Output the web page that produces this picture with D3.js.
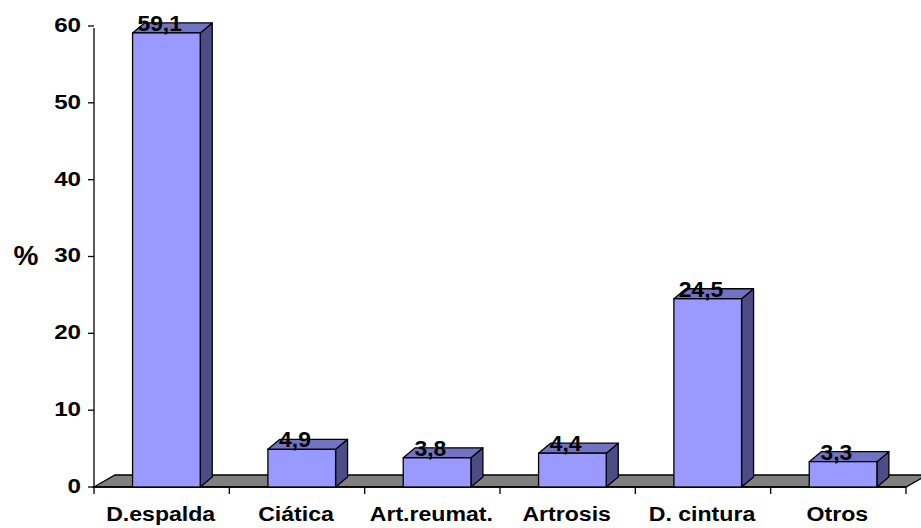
<!DOCTYPE html>
<html>
<head>
<meta charset="utf-8">
<script src="https://cdn.jsdelivr.net/npm/d3@7"></script>
<style>
  html, body { margin: 0; padding: 0; background: #fff; }
  svg { display: block; }
  text { font-family: Arial, "Liberation Sans", sans-serif; font-weight: bold; fill: #000; }
</style>
</head>
<body>
<svg id="chart" width="921" height="528"></svg>
<script>
const categories = ["D.espalda", "Ciática", "Art.reumat.", "Artrosis", "D. cintura", "Otros"];
const values = [59.1, 4.9, 3.8, 4.4, 24.5, 3.3];
const valueLabels = ["59,1", "4,9", "3,8", "4,4", "24,5", "3,3"];
const yTicks = [0, 10, 20, 30, 40, 50, 60];
const yAxisTitle = "%";

const svg = d3.select("#chart");
const plotLeft = 94, plotRight = 906, plotBottom = 487, plotTop = 26;

const x = d3.scaleBand().domain(categories).range([plotLeft, plotRight]).paddingInner(0).paddingOuter(0);
const y = d3.scaleLinear().domain([0, 60]).range([plotBottom, plotTop]);

// floor depth and bar depth (oblique projection)
const floorDx = 21, floorDy = -12;
const barDx = 12, barDy = -10;

// floor
svg.append("path")
  .attr("d", `M${plotLeft},${plotBottom} L${plotRight},${plotBottom} L${plotRight + floorDx},${plotBottom + floorDy} L${plotLeft + floorDx},${plotBottom + floorDy} Z`)
  .attr("fill", "#808080")
  .attr("stroke", "#000")
  .attr("stroke-width", 1.3);

// vertical axis
svg.append("line")
  .attr("x1", plotLeft).attr("x2", plotLeft)
  .attr("y1", y(60) + 2).attr("y2", plotBottom)
  .attr("stroke", "#000").attr("stroke-width", 1.3);

// y ticks
const yt = svg.append("g");
yt.selectAll("line").data(yTicks).join("line")
  .attr("x1", plotLeft - 6).attr("x2", plotLeft)
  .attr("y1", d => y(d)).attr("y2", d => y(d))
  .attr("stroke", "#000").attr("stroke-width", 1.3);
yt.selectAll("text").data(yTicks).join("text")
  .attr("transform", d => `translate(81,${y(d) - 1}) scale(1.15,1)`)
  .attr("text-anchor", "end")
  .attr("dominant-baseline", "central")
  .attr("font-size", 21)
  .text(d => d);

// y title
svg.append("text")
  .attr("transform", `translate(26,255)`)
  .attr("text-anchor", "middle")
  .attr("dominant-baseline", "central")
  .attr("font-size", 28)
  .text(yAxisTitle);

// x axis line and ticks
svg.append("line")
  .attr("x1", plotLeft).attr("x2", plotRight)
  .attr("y1", plotBottom).attr("y2", plotBottom)
  .attr("stroke", "#000").attr("stroke-width", 1.5);
const boundaries = categories.map(c => x(c)).concat([plotRight]);
svg.append("g").selectAll("line").data(boundaries).join("line")
  .attr("x1", d => d).attr("x2", d => d)
  .attr("y1", plotBottom).attr("y2", plotBottom + 7)
  .attr("stroke", "#000").attr("stroke-width", 1.3);

// bars
const bw = x.bandwidth();
const bars = svg.append("g").selectAll("g").data(categories.map((c, i) => ({ c, v: values[i], label: valueLabels[i] }))).join("g");
bars.each(function(d) {
  const g = d3.select(this);
  const x0 = x(d.c) + bw * 0.285;
  const x1 = x0 + bw * 0.5;
  const y0 = y(0);
  const y1 = y(d.v);
  // side face
  g.append("path")
    .attr("d", `M${x1},${y0} L${x1 + barDx},${y0 + barDy} L${x1 + barDx},${y1 + barDy} L${x1},${y1} Z`)
    .attr("fill", "#4D4D85").attr("stroke", "#000").attr("stroke-width", 1.3).attr("stroke-linejoin", "round");
  // top face
  g.append("path")
    .attr("d", `M${x0},${y1} L${x1},${y1} L${x1 + barDx},${y1 + barDy} L${x0 + barDx},${y1 + barDy} Z`)
    .attr("fill", "#7373C4").attr("stroke", "#000").attr("stroke-width", 1.3).attr("stroke-linejoin", "round");
  // front face
  g.append("rect")
    .attr("x", x0).attr("y", y1)
    .attr("width", x1 - x0).attr("height", y0 - y1)
    .attr("fill", "#9999FF").attr("stroke", "#000").attr("stroke-width", 1.3);
  // value label
  g.append("text")
    .attr("transform", `translate(${x(d.c) + bw / 2 - 2},${y1 - 2}) scale(1.04,1)`)
    .attr("text-anchor", "middle")
    .attr("font-size", 22)
    .text(d.label);
});

// category labels
svg.append("g").selectAll("text").data(categories).join("text")
  .attr("transform", d => `translate(${x(d) + bw / 2 - 1},521) scale(1.1,1)`)
  .attr("text-anchor", "middle")
  .attr("font-size", 21)
  .text(d => d);
</script>
</body>
</html>
